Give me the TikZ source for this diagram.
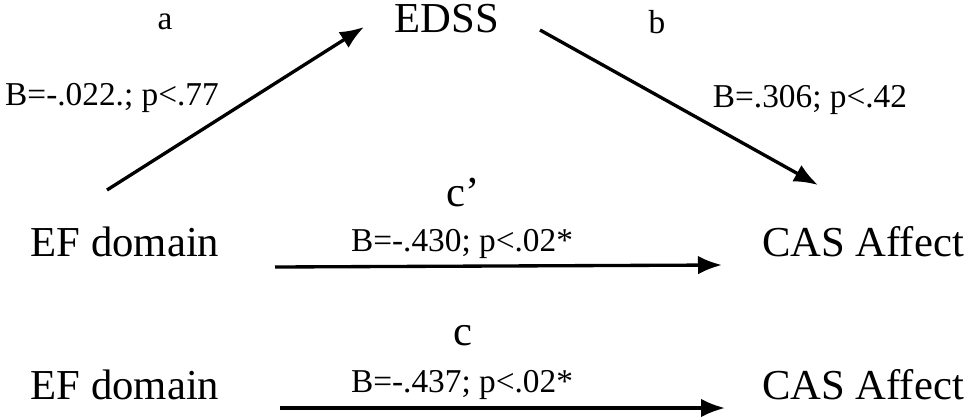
\documentclass[tikz,border=0pt]{standalone}
\usepackage{fontspec}
\setmainfont{Liberation Serif}
\usetikzlibrary{arrows.meta}
\begin{document}
\begin{tikzpicture}[x=0.75pt,y=-0.75pt,
  big/.style={font=\fontsize{32}{34}\selectfont, inner sep=0pt},
  lab/.style={font=\fontsize{25}{27}\selectfont, inner sep=0pt},
  arr/.style={line width=2.5pt,-{Latex[length=18pt,width=14pt]}}]
\useasboundingbox (0,0) rectangle (971,419);
\node[lab] (la) at (165,22) {a};
\node[big] (edss) at (447,19) {EDSS};
\node[lab] (lb) at (657,22) {b};
\node[lab] (ba) at (112,98) {B=-.022.; p<.77};
\node[lab] (bb) at (810,100) {B=.306; p<.42};
\node[big] (cp) at (463,193) {c’};
\node[big] (ef1) at (125,242) {EF domain};
\node[lab] (bc1) at (462,244) {B=-.430; p<.02*};
\node[big] (cas1) at (863,242) {CAS Affect};
\node[big] (c) at (463,336) {c};
\node[big] (ef2) at (125,385) {EF domain};
\node[lab] (bc2) at (462,385) {B=-.437; p<.02*};
\node[big] (cas2) at (863,385) {CAS Affect};
\coordinate (a1) at (107,190); \coordinate (a2) at (364,27);
\coordinate (b1) at (540,30); \coordinate (b2) at (818,185);
\coordinate (c1) at (275,267); \coordinate (c2) at (722,265);
\coordinate (d1) at (280,408); \coordinate (d2) at (725,408);
\draw[arr] (a1) -- (a2);
\draw[arr] (b1) -- (b2);
\draw[arr] (c1) -- (c2);
\draw[arr] (d1) -- (d2);
\end{tikzpicture}
\end{document}
